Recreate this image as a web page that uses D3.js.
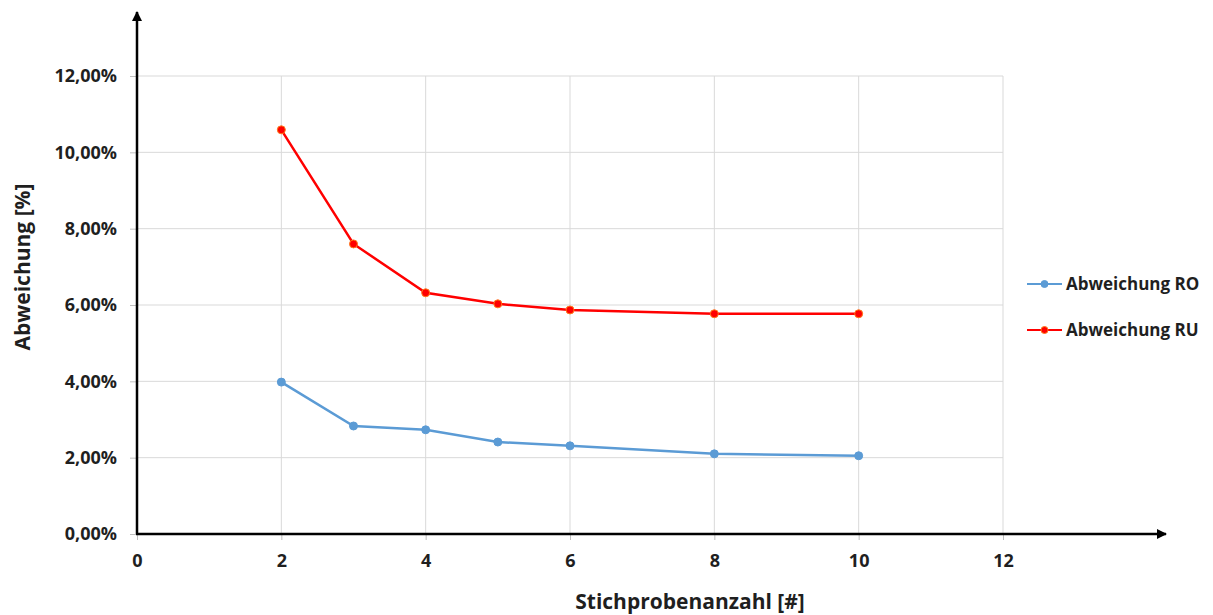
<!DOCTYPE html>
<html>
<head>
<meta charset="utf-8">
<script src="https://cdn.jsdelivr.net/npm/d3@7"></script>
<style>
  body { margin: 0; background: #fff; }
  text { font-family: "Open Sans", "Liberation Sans", sans-serif; font-weight: bold; fill: #1f1f1f; }
</style>
</head>
<body>
<svg class="chart"></svg>
<script>
// chart data
const samples = [2, 3, 4, 5, 6, 8, 10]
const abwRO = [3.98, 2.83, 2.73, 2.41, 2.31, 2.10, 2.05]
const abwRU = [10.59, 7.60, 6.32, 6.03, 5.87, 5.77, 5.77]
const xTicks = [0, 2, 4, 6, 8, 10, 12]
const yTicks = [0, 2, 4, 6, 8, 10, 12]
const seriesNames = ['Abweichung RO', 'Abweichung RU']
const seriesColors = ['#5b9bd5', '#ff0000']

const width = 1213
const height = 615

const svg = d3.select('svg.chart')
  .attr('width', width)
  .attr('height', height)

// scales
const x = d3.scaleLinear().domain([0, 12]).range([137, 1003])
const y = d3.scaleLinear().domain([0, 12]).range([534, 76])

// grid
svg.append('g')
  .selectAll('line')
  .data(yTicks.filter(d => d > 0))
  .join('line')
  .attr('x1', x(0)).attr('x2', x(12))
  .attr('y1', d => y(d)).attr('y2', d => y(d))
  .attr('stroke', '#d9d9d9').attr('stroke-width', 1)

svg.append('g')
  .selectAll('line')
  .data(xTicks.filter(d => d > 0))
  .join('line')
  .attr('x1', d => x(d)).attr('x2', d => x(d))
  .attr('y1', y(12)).attr('y2', y(0))
  .attr('stroke', '#d9d9d9').attr('stroke-width', 1)

// axes (tick labels + little ticks)
const fmt = d => d3.format('.2f')(d).replace('.', ',') + '%'

const yAxis = svg.append('g')
  .attr('transform', `translate(${x(0)},0)`)
  .call(d3.axisLeft(y).tickValues(yTicks).tickFormat(fmt).tickSize(7).tickPadding(13))
yAxis.select('.domain').remove()
yAxis.selectAll('.tick line').attr('stroke', '#bfbfbf')
yAxis.selectAll('text').style('font-size', '18px')

const xAxis = svg.append('g')
  .attr('transform', `translate(0,${y(0)})`)
  .call(d3.axisBottom(x).tickValues(xTicks).tickSize(6).tickPadding(14))
xAxis.select('.domain').remove()
xAxis.selectAll('.tick line').attr('stroke', '#bfbfbf')
xAxis.selectAll('text').style('font-size', '18px')

// arrow axes
svg.append('defs').append('marker')
  .attr('id', 'arrow')
  .attr('viewBox', '0 0 10 10')
  .attr('refX', 9).attr('refY', 5)
  .attr('markerWidth', 4).attr('markerHeight', 4)
  .attr('orient', 'auto')
  .append('path')
  .attr('d', 'M0,0 L10,5 L0,10 Z')
  .attr('fill', '#000')

svg.append('line')
  .attr('x1', x(0)).attr('y1', y(0))
  .attr('x2', x(0)).attr('y2', 12)
  .attr('stroke', '#000').attr('stroke-width', 2.5)
  .attr('marker-end', 'url(#arrow)')

svg.append('line')
  .attr('x1', x(0) - 1).attr('y1', y(0))
  .attr('x2', 1166).attr('y2', y(0))
  .attr('stroke', '#000').attr('stroke-width', 2.5)
  .attr('marker-end', 'url(#arrow)')

// series
const line = d3.line().x(d => x(d[0])).y(d => y(d[1]))
const series = [abwRO, abwRU].map((vals, i) => ({
  name: seriesNames[i],
  color: seriesColors[i],
  points: samples.map((s, j) => [s, vals[j]])
}))

series.forEach((s, i) => {
  svg.append('path')
    .datum(s.points)
    .attr('d', line)
    .attr('fill', 'none')
    .attr('stroke', s.color)
    .attr('stroke-width', 2.5)

  svg.append('g')
    .selectAll('circle')
    .data(s.points)
    .join('circle')
    .attr('cx', d => x(d[0]))
    .attr('cy', d => y(d[1]))
    .attr('r', 4)
    .attr('fill', s.color)
    .attr('stroke', i === 1 ? '#ff7a1a' : s.color)
    .attr('stroke-width', 1)
})

// legend
const legend = svg.append('g')
  .selectAll('g')
  .data(series)
  .join('g')
  .attr('transform', (d, i) => `translate(1027, ${284 + i * 46})`)

legend.append('line')
  .attr('x1', 0).attr('x2', 35)
  .attr('stroke', d => d.color).attr('stroke-width', 2)
legend.append('circle')
  .attr('cx', 17.5).attr('r', 3.5)
  .attr('fill', d => d.color)
  .attr('stroke', (d, i) => i === 1 ? '#ff7a1a' : d.color)
legend.append('text')
  .attr('x', 39).attr('dy', '0.35em')
  .style('font-size', '17px')
  .text(d => d.name)

// axis titles
svg.append('text')
  .attr('x', 690).attr('y', 609)
  .attr('text-anchor', 'middle')
  .style('font-size', '21px')
  .text('Stichprobenanzahl [#]')

svg.append('text')
  .attr('transform', 'translate(30, 267) rotate(-90)')
  .attr('text-anchor', 'middle')
  .style('font-size', '21px')
  .text('Abweichung [%]')
</script>
</body>
</html>
